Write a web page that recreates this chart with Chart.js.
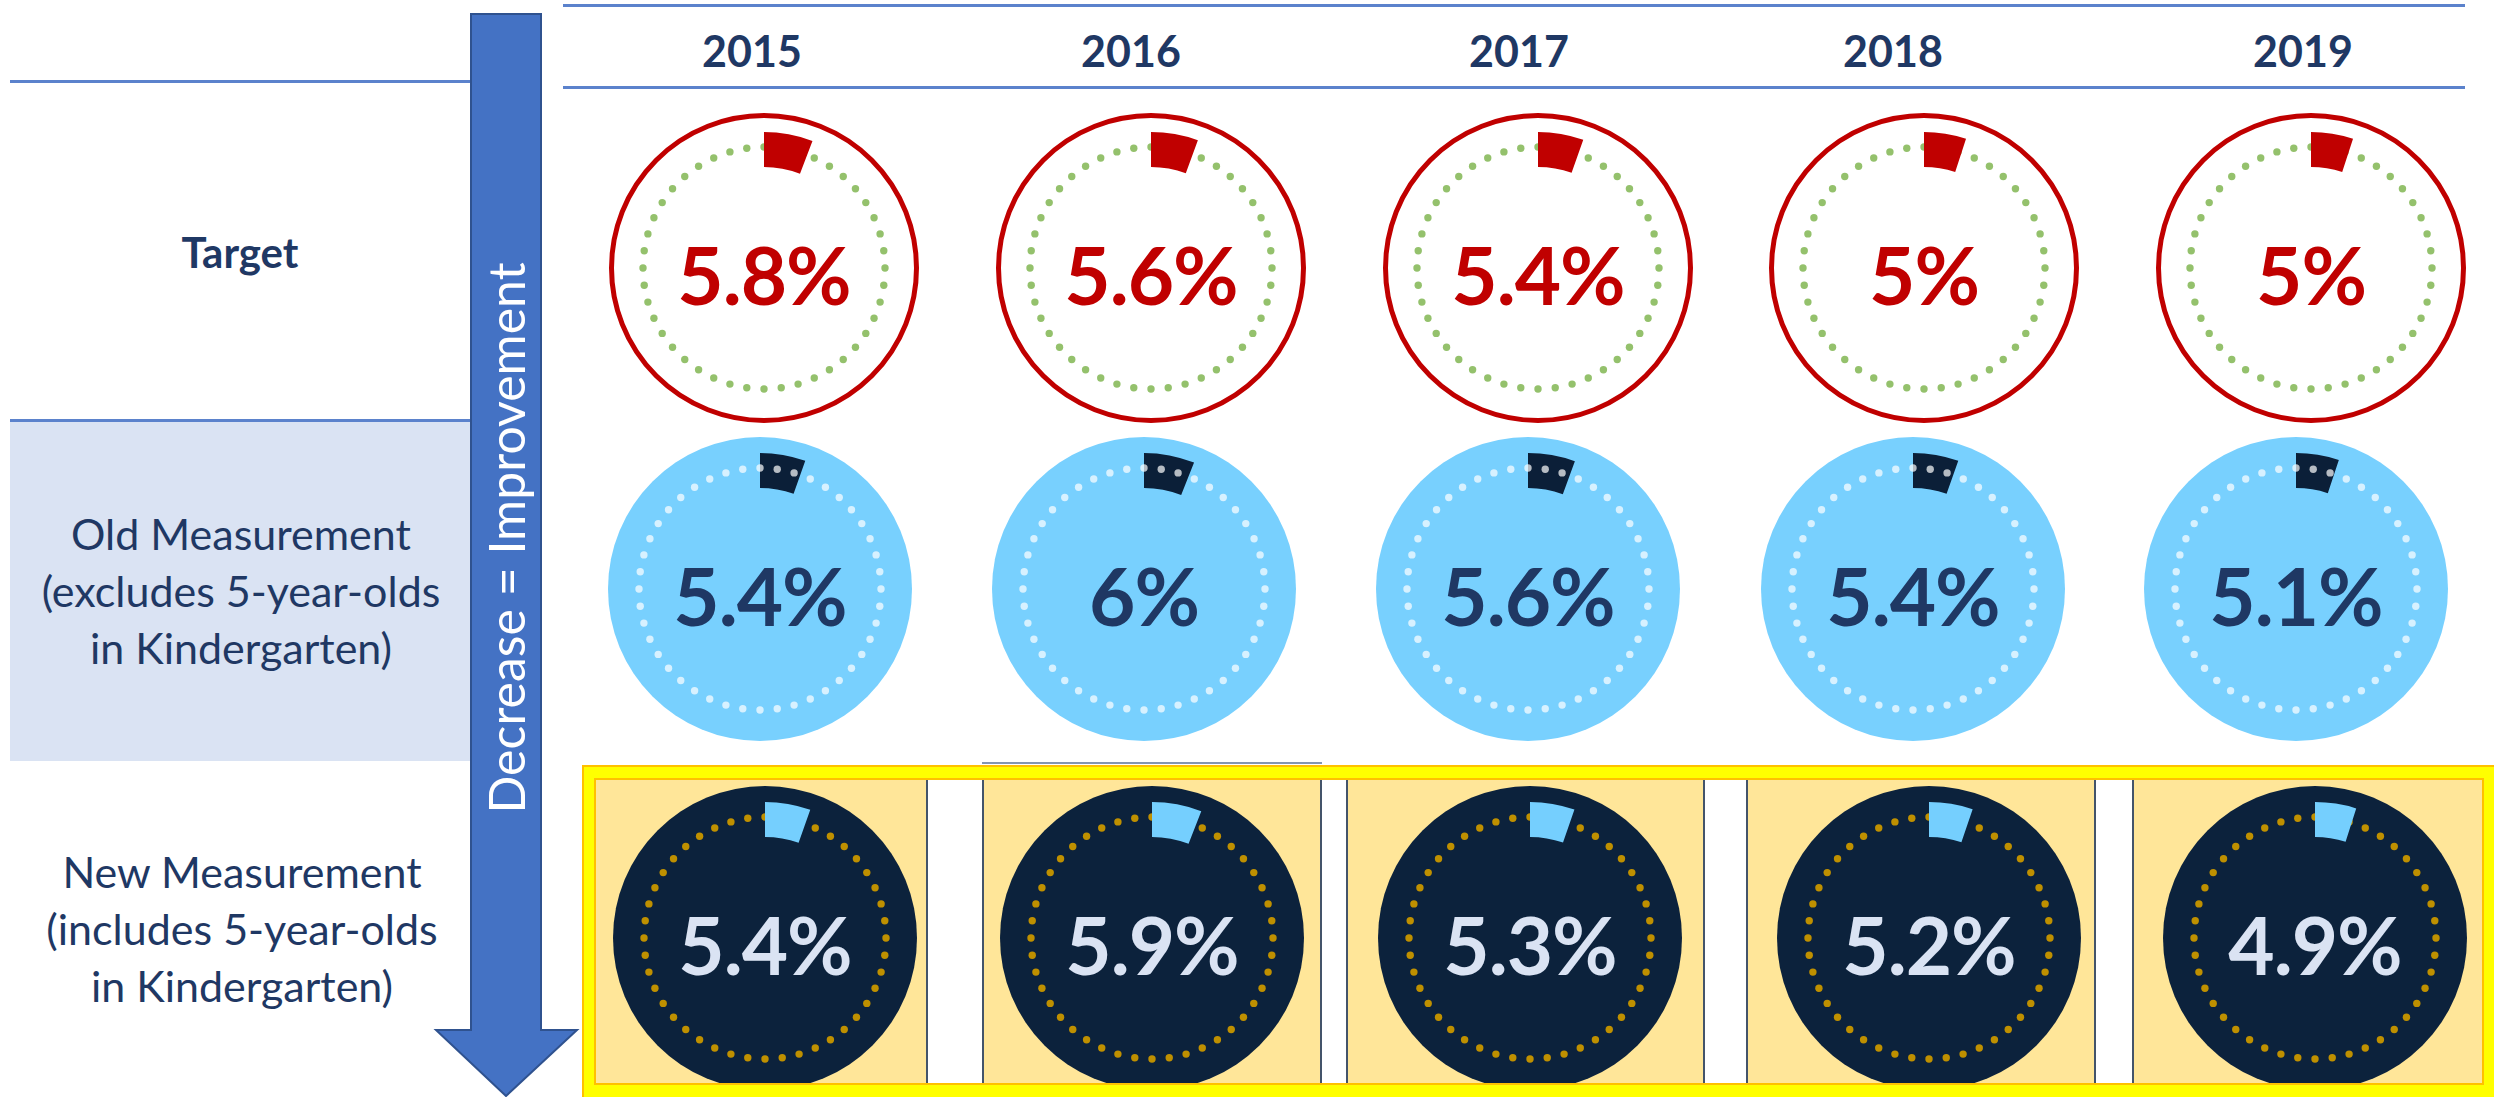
<!DOCTYPE html>
<html>
<head>
<meta charset="utf-8">
<script src="https://cdn.jsdelivr.net/npm/chart.js@4.4.1/dist/chart.umd.min.js"></script>
<style>
  html, body { margin: 0; padding: 0; background: #ffffff; }
  body { width: 2494px; height: 1097px; position: relative; overflow: hidden; font-family: Lato, "Open Sans", sans-serif; }
  .abs { position: absolute; }
  .hline { position: absolute; height: 3px; background: #5B82CC; }
  .year { position: absolute; font-weight: 700; font-size: 43px; color: #1F3864; line-height: 1; transform: translate(-50%, -50%); white-space: nowrap; }
  .rowlab { position: absolute; color: #1F3864; text-align: center; white-space: nowrap; }
  .val { position: absolute; font-weight: 700; font-size: 80px; line-height: 1; transform: translate(-50%, -50%); white-space: nowrap; letter-spacing: -1px; }
  .cell { position: absolute; background: #FFE699; box-sizing: border-box; }
</style>
</head>
<body>
<script>
// ---------- data ----------
const years = ['2015', '2016', '2017', '2018', '2019'];
const targetValues = [5.8, 5.6, 5.4, 5, 5];
const oldValues = [5.4, 6, 5.6, 5.4, 5.1];
const newValues = [5.4, 5.9, 5.3, 5.2, 4.9];
const targetLabel = ['Target'];
const oldLabel = ['Old Measurement', '(excludes 5-year-olds', 'in Kindergarten)'];
const newLabel = ['New Measurement', '(includes 5-year-olds', 'in Kindergarten)'];
const arrowLabel = 'Decrease = Improvement';

// ---------- layout ----------
const yearX = [752, 1131, 1519, 1893, 2303];
const targetX = [764, 1151, 1538, 1924, 2311];
const oldX = [760, 1144, 1528, 1913, 2296];
const newX = [765, 1152, 1530, 1929, 2315];
const cellX = [[596, 928], [982, 1322], [1346, 1705], [1746, 2096], [2132, 2482]];

const body = document.body;
function el(tag, cls, css, parent) {
  const e = document.createElement(tag);
  if (cls) e.className = cls;
  Object.assign(e.style, css || {});
  (parent || body).appendChild(e);
  return e;
}

// header lines
el('div', 'hline', { left: '563px', top: '4px', width: '1902px' });
el('div', 'hline', { left: '563px', top: '86px', width: '1902px' });
el('div', 'hline', { left: '10px', top: '80px', width: '461px' });

// old measurement shaded box
el('div', '', { position: 'absolute', left: '10px', top: '421px', width: '461px', height: '340px', background: '#DAE3F3' });
el('div', 'hline', { left: '10px', top: '419px', width: '461px' });

// year labels
years.forEach((y, i) => {
  const d = el('div', 'year', { left: yearX[i] + 'px', top: '50px' });
  d.textContent = y;
});

// row labels
function rowLabel(lines, cx, top, size, weight, lh) {
  const d = el('div', 'rowlab', { left: (cx - 250) + 'px', width: '500px', top: top + 'px', fontSize: size + 'px', fontWeight: weight, lineHeight: lh + 'px' });
  lines.forEach((t) => {
    const s = el('div', '', {}, d);
    s.textContent = t;
  });
}
rowLabel(targetLabel, 240, 230, 42, 700, 44);
rowLabel(oldLabel, 241, 505, 43, 400, 57);
rowLabel(newLabel, 242, 843, 43, 400, 57);

// arrow
const svgNS = 'http://www.w3.org/2000/svg';
const svg = document.createElementNS(svgNS, 'svg');
svg.setAttribute('width', '2494');
svg.setAttribute('height', '1097');
svg.style.position = 'absolute';
svg.style.left = '0px';
svg.style.top = '0px';
const poly = document.createElementNS(svgNS, 'polygon');
poly.setAttribute('points', '471,14 541,14 541,1030 577,1030 506,1096 436,1030 471,1030');
poly.setAttribute('fill', '#4472C4');
poly.setAttribute('stroke', '#2F528F');
poly.setAttribute('stroke-width', '2');
svg.appendChild(poly);
body.appendChild(svg);
const arrowText = el('div', '', { position: 'absolute', left: '506px', top: '538px', transform: 'translate(-50%, -50%) rotate(-90deg)', color: '#ffffff', fontSize: '50px', lineHeight: '1', whiteSpace: 'nowrap', fontWeight: 400 });
arrowText.textContent = arrowLabel;

// yellow band for new measurement
el('div', '', { position: 'absolute', left: '982px', top: '762px', width: '340px', height: '2px', background: '#8496B0' });
el('div', '', { position: 'absolute', left: '582px', top: '765px', width: '1914px', height: '334px', background: '#FFFF00', border: '2px solid #FFC000', boxSizing: 'border-box' });
el('div', '', { position: 'absolute', left: '594px', top: '778px', width: '1890px', height: '307px', background: '#ffffff', border: '2px solid #FFC000', boxSizing: 'border-box' });
const clip = el('div', '', { position: 'absolute', left: '596px', top: '780px', width: '1886px', height: '303px', overflow: 'hidden' });
cellX.forEach((c, i) => {
  const css = { left: (c[0] - 596) + 'px', top: '0px', width: (c[1] - c[0]) + 'px', height: '303px' };
  if (i > 0) css.borderLeft = '2px solid #44546A';
  if (i < cellX.length - 1) css.borderRight = '2px solid #44546A';
  el('div', 'cell', css, clip);
});

// ---------- gauges ----------
const gaugeDecor = {
  id: 'gaugeDecor',
  beforeDatasetsDraw(chart, args, o) {
    const arc = chart.getDatasetMeta(0).data[0];
    const ctx = chart.ctx;
    ctx.save();
    ctx.beginPath();
    ctx.arc(arc.x, arc.y, o.discR, 0, Math.PI * 2);
    ctx.fillStyle = o.fill;
    ctx.fill();
    if (o.ring) {
      ctx.beginPath();
      ctx.arc(arc.x, arc.y, o.discR - o.ringWidth / 2, 0, Math.PI * 2);
      ctx.lineWidth = o.ringWidth;
      ctx.strokeStyle = o.ring;
      ctx.stroke();
    }
    if (!o.dotsOnTop) drawDots(ctx, arc.x, arc.y, o);
    ctx.restore();
  },
  afterDatasetsDraw(chart, args, o) {
    if (!o.dotsOnTop) return;
    const arc = chart.getDatasetMeta(0).data[0];
    chart.ctx.save();
    drawDots(chart.ctx, arc.x, arc.y, o);
    chart.ctx.restore();
  }
};
function drawDots(ctx, x, y, o) {
  ctx.fillStyle = o.dotColor;
  for (let i = 0; i < o.dotCount; i++) {
    const a = -Math.PI / 2 + i * Math.PI * 2 / o.dotCount;
    ctx.beginPath();
    ctx.arc(x + o.dotRing * Math.cos(a), y + o.dotRing * Math.sin(a), o.dotR, 0, Math.PI * 2);
    ctx.fill();
  }
}

const styles = {
  target: { fill: '#FFFFFF', ring: '#C00000', ringWidth: 5, discR: 155, wedge: '#C00000', dotColor: '#94C16C', dotsOnTop: false, text: '#C00000' },
  old: { fill: '#78D0FE', ring: null, ringWidth: 0, discR: 152, wedge: '#0B1F38', dotColor: 'rgba(255,255,255,0.7)', dotsOnTop: true, text: '#1F3864' },
  nw: { fill: '#0C223C', ring: null, ringWidth: 0, discR: 152, wedge: '#75CFFE', dotColor: '#BF9000', dotsOnTop: false, text: '#DAE3F3' }
};

function fmt(v) { return (Number.isInteger(v) ? String(v) : v.toFixed(1)) + '%'; }

const OUTER_R = 136, INNER_R = 101;

function makeGauge(parent, offX, offY, cx, cy, value, st) {
  const S = 330;
  const c = document.createElement('canvas');
  c.width = S; c.height = S;
  c.style.position = 'absolute';
  c.style.left = (cx - offX - S / 2) + 'px';
  c.style.top = (cy - offY - S / 2) + 'px';
  parent.appendChild(c);
  new Chart(c, {
    type: 'doughnut',
    data: {
      labels: ['value', 'rest'],
      datasets: [{ data: [value, 100 - value], backgroundColor: [st.wedge, 'rgba(0,0,0,0)'], borderWidth: 0 }]
    },
    options: {
      responsive: false,
      animation: false,
      events: [],
      radius: OUTER_R,
      cutout: (INNER_R / OUTER_R * 100) + '%',
      layout: { padding: 0 },
      plugins: {
        legend: { display: false },
        tooltip: { enabled: false },
        gaugeDecor: { fill: st.fill, ring: st.ring, ringWidth: st.ringWidth, discR: st.discR, dotColor: st.dotColor, dotsOnTop: st.dotsOnTop, dotCount: 44, dotRing: 121, dotR: 3.7 }
      }
    },
    plugins: [gaugeDecor]
  });
  const t = el('div', 'val', { left: (cx - offX) + 'px', top: (cy - offY + 6) + 'px', color: st.text }, parent);
  t.textContent = fmt(value);
}

targetValues.forEach((v, i) => makeGauge(body, 0, 0, targetX[i], 268, v, styles.target));
oldValues.forEach((v, i) => makeGauge(body, 0, 0, oldX[i], 589, v, styles.old));
newValues.forEach((v, i) => makeGauge(clip, 596, 780, newX[i], 938, v, styles.nw));
</script>
</body>
</html>
